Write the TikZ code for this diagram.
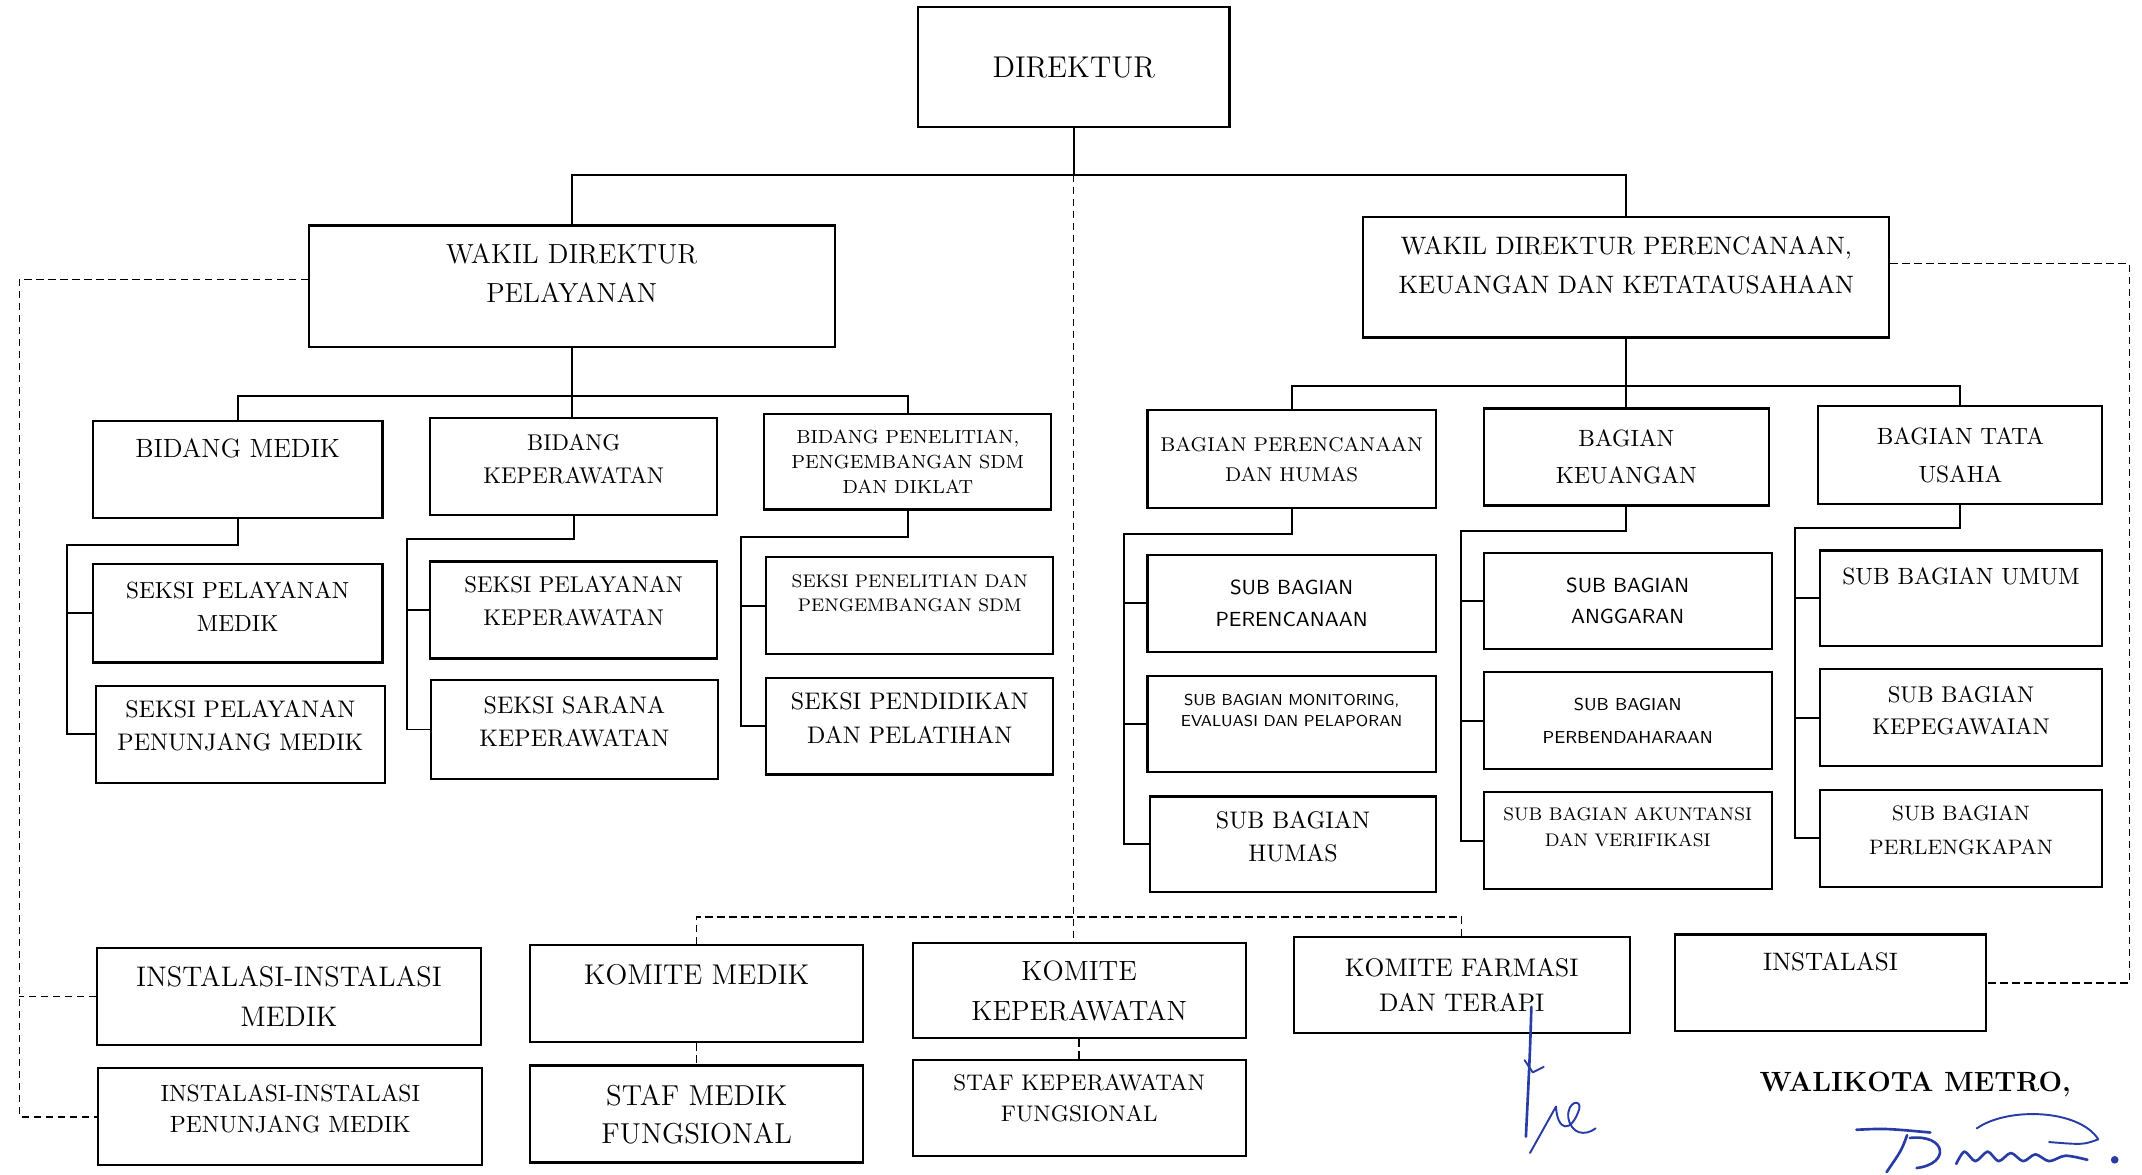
\documentclass[tikz,border=0pt]{standalone}
\definecolor{ink}{RGB}{40,60,165}

\begin{document}
\begin{tikzpicture}[x=0.02cm, y=-0.02cm,
    box/.style={draw, line width=0.9pt, rectangle, align=center, inner sep=1pt,
      minimum width=4.2cm, minimum height=1.42cm, text depth=0.24cm},
    fs/.style 2 args={font=\fontsize{#1}{#2}\selectfont},
    sfs/.style 2 args={font=\sffamily\fontsize{#1}{#2}\selectfont},
    koord/.style={line width=0.6pt, dash pattern=on 3pt off 2pt},
    sign/.style={ink, line width=1.1pt, line cap=round, line join=round}]

  \useasboundingbox (0,0) rectangle (1568,859.4);

  \node[box, fs={12.5}{15}, minimum width=4.56cm, minimum height=1.76cm, text depth=0pt] (DIR) at (786,49) {DIREKTUR};
  \node[box, fs={11.5}{16.5}, minimum width=7.7cm, minimum height=1.78cm, text depth=0.38cm] (WPL) at (418.5,209.5) {WAKIL DIREKTUR\\PELAYANAN};
  \node[box, fs={10.5}{16}, minimum width=7.7cm, minimum height=1.76cm, text depth=0.36cm] (WPK) at (1190.5,203) {WAKIL DIREKTUR PERENCANAAN,\\KEUANGAN DAN KETATAUSAHAAN};

  \node[box, fs={11}{14}, minimum width=4.24cm, text depth=0.62cm] (BM) at (174,343.5) {BIDANG MEDIK};
  \node[box, fs={9.5}{13.7}, text depth=0.22cm] (BK) at (420,341.5) {BIDANG\\KEPERAWATAN};
  \node[box, fs={7.9}{10.5}, minimum height=1.4cm, text depth=0pt] (BP) at (664.5,338) {BIDANG PENELITIAN,\\PENGEMBANGAN SDM\\DAN DIKLAT};
  \node[box, fs={9.7}{13.7}, minimum width=4.24cm, minimum height=1.44cm, text depth=0.2cm] (SPM) at (174,449) {SEKSI PELAYANAN\\MEDIK};
  \node[box, fs={10}{13.7}, minimum width=4.24cm, text depth=0.26cm] (SPP) at (176,537.5) {SEKSI PELAYANAN\\PENUNJANG MEDIK};
  \node[box, fs={9.5}{13.7}, text depth=0.26cm] (SPK) at (420,446.5) {SEKSI PELAYANAN\\KEPERAWATAN};
  \node[box, fs={10}{13.7}, minimum height=1.44cm, text depth=0.24cm] (SSK) at (420.5,534) {SEKSI SARANA\\KEPERAWATAN};
  \node[box, fs={7.6}{10.2}, text depth=0.38cm] (SPL) at (666,443.5) {SEKSI PENELITIAN DAN\\PENGEMBANGAN SDM};
  \node[box, fs={10}{14}, text depth=0.24cm] (SPD) at (666,531.5) {SEKSI PENDIDIKAN\\DAN PELATIHAN};

  \node[box, fs={8.3}{12.5}, minimum width=4.22cm, minimum height=1.44cm, text depth=0pt] (BPH) at (945.5,336) {BAGIAN PERENCANAAN\\DAN HUMAS};
  \node[box, fs={9.8}{15.4}, minimum width=4.18cm, text depth=0pt] (BKU) at (1190.5,334.5) {BAGIAN\\KEUANGAN};
  \node[box, fs={9.8}{16}, minimum width=4.16cm, minimum height=1.44cm, text depth=0pt] (BTU) at (1435,333) {BAGIAN TATA\\USAHA};
  \node[box, sfs={8.5}{13.6}, minimum width=4.22cm, text depth=0pt] (SBP) at (945.5,441.5) {SUB BAGIAN\\PERENCANAAN};
  \node[box, sfs={6.6}{9}, minimum width=4.22cm, minimum height=1.4cm, text depth=0.4cm] (SBM) at (945.5,530) {SUB BAGIAN MONITORING,\\EVALUASI DAN PELAPORAN};
  \node[box, fs={10}{13.7}, minimum width=4.18cm, minimum height=1.4cm, text depth=0.24cm] (SBH) at (946.5,618) {SUB BAGIAN\\HUMAS};
  \node[box, sfs={8.5}{13}, minimum width=4.22cm, minimum height=1.4cm, text depth=0pt] (SBA) at (1191.5,440) {SUB BAGIAN\\ANGGARAN};
  \node[box, sfs={7.2}{14}, minimum width=4.22cm, text depth=0pt] (SBB) at (1191.5,527.5) {SUB BAGIAN\\PERBENDAHARAAN};
  \node[box, fs={7.6}{10.8}, minimum width=4.22cm, text depth=0.4cm] (SBV) at (1191.5,615.5) {SUB BAGIAN AKUNTANSI\\DAN VERIFIKASI};
  \node[box, fs={9.8}{14}, minimum width=4.14cm, minimum height=1.4cm, text depth=0.64cm] (SBU) at (1435.5,438) {SUB BAGIAN UMUM};
  \node[box, fs={9.5}{13.7}, minimum width=4.14cm, text depth=0.22cm] (SBK) at (1435.5,525.5) {SUB BAGIAN\\KEPEGAWAIAN};
  \node[box, fs={8.7}{14}, minimum width=4.14cm, text depth=0.24cm] (SBL) at (1435.5,613.5) {SUB BAGIAN\\PERLENGKAPAN};

  \node[box, fs={11.8}{16.5}, minimum width=5.62cm, text depth=0pt] (IIM) at (211.5,729.5) {INSTALASI-INSTALASI\\MEDIK};
  \node[box, fs={9.8}{13}, minimum width=5.62cm, text depth=0.24cm] (IIP) at (212.5,817.5) {INSTALASI-INSTALASI\\PENUNJANG MEDIK};
  \node[box, fs={11.9}{15}, minimum width=4.88cm, text depth=0.58cm] (KM) at (510,727.5) {KOMITE MEDIK};
  \node[box, fs={12}{16}, minimum width=4.88cm, text depth=0pt] (SMF) at (510,815.5) {STAF MEDIK\\FUNGSIONAL};
  \node[box, fs={11.6}{16.5}, minimum width=4.88cm, minimum height=1.4cm, text depth=0pt] (KK) at (790,725) {KOMITE\\KEPERAWATAN};
  \node[box, fs={9.4}{13}, minimum width=4.88cm, minimum height=1.4cm, text depth=0.3cm] (SKF) at (790,811) {STAF KEPERAWATAN\\FUNGSIONAL};
  \node[box, fs={10.6}{14.8}, minimum width=4.92cm, minimum height=1.4cm, text depth=0pt] (KF) at (1070,721) {KOMITE FARMASI\\DAN TERAPI};
  \node[box, fs={10.5}{14}, minimum width=4.56cm, text depth=0.62cm] (INS) at (1340,719.5) {INSTALASI};

  \node[font=\bfseries\fontsize{11.6}{14}\selectfont] (WAL) at (1402,794) {WALIKOTA METRO,};

  \draw[line width=0.8pt] (DIR.south) -- ++(0,34) coordinate (djoin) -| (WPL.north);
  \draw[line width=0.8pt] (djoin) -| (WPK.north);
  \draw[line width=0.8pt] (WPL.south) -- ++(0,35) coordinate (pjoin) -| (BM.north);
  \draw[line width=0.8pt] (pjoin) -| (BP.north);
  \draw[line width=0.8pt] (WPL.south) -- (WPL.south |- BK.north);
  \draw[line width=0.8pt] (WPK.south) -- ++(0,35) coordinate (kjoin) -| (BPH.north);
  \draw[line width=0.8pt] (kjoin) -| (BTU.north);
  \draw[line width=0.8pt] (WPK.south) -- (WPK.south |- BKU.north);

  \draw[line width=0.8pt] (BM.south) -- ++(0,19) -| ([xshift=-0.36cm]SPM.west) |- (SPP.west);
  \draw[line width=0.8pt] ([xshift=-0.36cm]SPM.west) -- (SPM.west);
  \draw[line width=0.8pt] (BK.south) -- ++(0,17) -| ([xshift=-0.32cm]SPK.west) |- (SSK.west);
  \draw[line width=0.8pt] ([xshift=-0.32cm]SPK.west) -- (SPK.west);
  \draw[line width=0.8pt] (BP.south) -- ++(0,19) -| ([xshift=-0.36cm]SPL.west) |- (SPD.west);
  \draw[line width=0.8pt] ([xshift=-0.36cm]SPL.west) -- (SPL.west);

  \draw[line width=0.8pt] (BPH.south) -- ++(0,18) -| ([xshift=-0.33cm]SBP.west) |- (SBH.west);
  \draw[line width=0.8pt] ([xshift=-0.33cm]SBP.west) -- (SBP.west);
  \draw[line width=0.8pt] ([xshift=-0.33cm]SBM.west) -- (SBM.west);
  \draw[line width=0.8pt] (BKU.south) -- ++(0,18) -| ([xshift=-0.32cm]SBA.west) |- (SBV.west);
  \draw[line width=0.8pt] ([xshift=-0.32cm]SBA.west) -- (SBA.west);
  \draw[line width=0.8pt] ([xshift=-0.32cm]SBB.west) -- (SBB.west);
  \draw[line width=0.8pt] (BTU.south) -- ++(0,17) -| ([xshift=-0.34cm]SBU.west) |- (SBL.west);
  \draw[line width=0.8pt] ([xshift=-0.34cm]SBU.west) -- (SBU.west);
  \draw[line width=0.8pt] ([xshift=-0.34cm]SBK.west) -- (SBK.west);

  \draw[koord] (djoin) -- (djoin |- KK.north);
  \draw[koord] (KM.north) -- ++(0,-20) -| (KF.north);
  \draw[koord] (KM.south) -- (SMF.north);
  \draw[koord] (KK.south) -- (SKF.north);
  \draw[koord] ([yshift=0.1cm]WPL.west) -| ([xshift=-1.14cm]IIP.west) -- (IIP.west);
  \draw[koord] (IIM.west) -- ++(-56,0);
  \draw[koord] ([yshift=0.2cm]WPK.east) -| ([xshift=2.08cm]INS.east) -- (INS.east);

  \draw[sign] (1121,737) .. controls (1120,770) .. (1117,832);
  \draw[sign, line width=0.8pt] (1116,776) -- (1122,785) -- (1130,781);
  \draw[sign, line width=0.8pt] (1120,844) -- (1139,810) .. controls (1140,828) and (1150,830) .. (1156,812) .. controls (1158,804) and (1147,806) .. (1148,818) .. controls (1150,830) and (1160,832) .. (1168,826);
  \draw[sign] (1359,827) .. controls (1380,826) .. (1413,829);
  \draw[sign] (1396,831) .. controls (1392,842) .. (1381,858);
  \draw[sign] (1398,833) .. controls (1425,830) and (1428,852) .. (1403,855);
  \draw[sign, line width=0.8pt] (1447,826) .. controls (1470,810) and (1522,812) .. (1536,834) .. controls (1525,838) .. (1500,836);
  \draw[sign] plot[smooth] coordinates {(1432,852) (1438,843) (1446,850) (1455,843) (1463,850) (1472,844) (1481,850) (1490,845) (1500,850) (1512,846) (1528,849)};
  \fill[ink] (1548,849) circle (1.6pt);
\end{tikzpicture}
\end{document}
